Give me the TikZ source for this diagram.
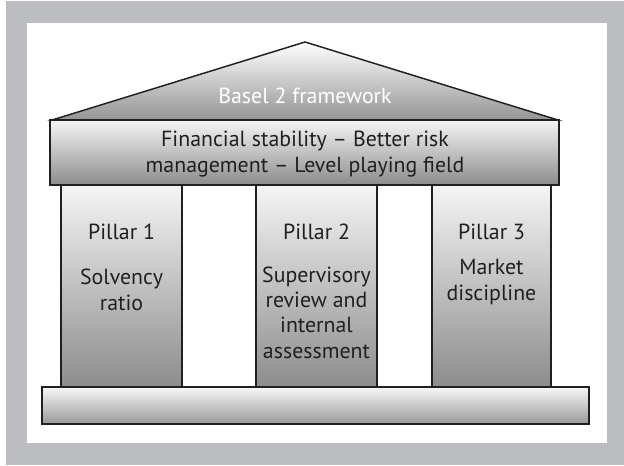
\documentclass[tikz,border=0pt]{standalone}
\usepackage{fontspec}
\setmainfont{PT Sans}
\definecolor{framegrey}{HTML}{BCBDC0}
\definecolor{edgeink}{HTML}{231F20}

\begin{document}
\begin{tikzpicture}[x=0.75pt,y=-0.75pt,
    part/.style={draw=edgeink,line width=1.1pt,top color=black!4,bottom color=black!45},
    lbl/.style={align=center,anchor=base,text=edgeink,inner sep=0pt,
      font=\fontsize{16.4}{19}\selectfont}]
  \useasboundingbox (0,0) rectangle (624,465);
  % frame
  \fill[framegrey] (6,1) rectangle (624,465);
  \fill[white] (27,23) rectangle (607,443);

  % roof and beam
  \draw[part,top color=white,bottom color=black!42,line join=miter] (52,120) -- (305,42) -- (558,120) -- cycle;
  \draw[part] (50,120) rectangle (559,185);

  % pillars and base
  \draw[part] (61,185) rectangle (182,387);
  \draw[part] (256,185) rectangle (377,387);
  \draw[part] (432,185) rectangle (551,387);
  \draw[part,top color=black!3,bottom color=black!40] (42,387) rectangle (589,424);

  % texts (base = last line)
  \node[lbl,text=white] (title) at (305,103) {Basel 2 framework};
  \node[lbl] (aims) at (305,172) {Financial stability -- Better risk\\management -- Level playing field};
  \node[lbl] (p1) at (121.5,239) {Pillar 1};
  \node[lbl] (p2) at (316.5,239) {Pillar 2};
  \node[lbl] (p3) at (491.5,239) {Pillar 3};
  \node[lbl] (solv) at (121.5,310) {Solvency\\ratio};
  \node[lbl] (superv) at (316.5,358) {Supervisory\\review and\\internal\\assessment};
  \node[lbl] (market) at (491.5,300) {Market\\discipline};
\end{tikzpicture}
\end{document}
